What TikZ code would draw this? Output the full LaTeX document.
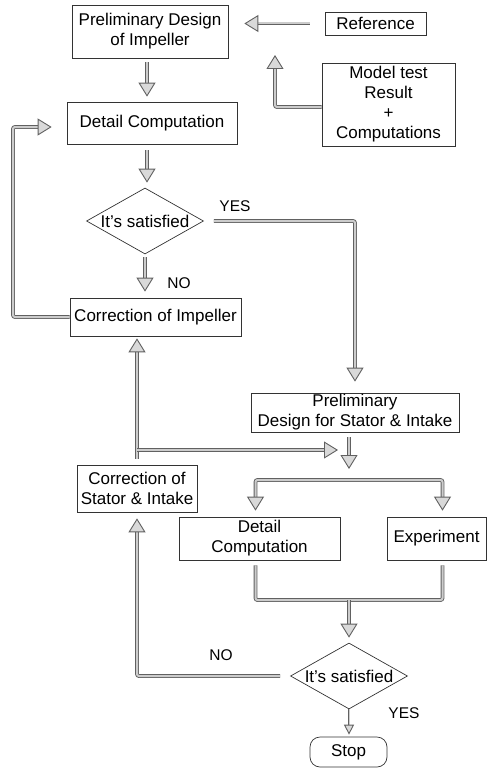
\documentclass[tikz,border=0pt]{standalone}
\usepackage{fontspec}
\setmainfont{Liberation Sans}
\usetikzlibrary{shapes.geometric,arrows.meta}
\tikzset{
box/.style={draw=black!80,line width=0.7pt,inner sep=1pt,align=center},
decide/.style={diamond,draw=black!80,line width=0.7pt,inner sep=0pt,aspect=1.75,minimum width=117pt,minimum height=66pt},
endbox/.style={draw=black!80,line width=0.7pt,rounded corners=10pt,minimum width=77pt,minimum height=30pt},
pipe/.style={draw=black!62,double=black!20,double distance=2pt,line width=0.9pt,rounded corners=2pt},
pipehead/.tip={Triangle[length=14pt,width=17pt,fill=black!15]},
pipearrow/.style={pipe,-pipehead},
lbl/.style={font=\fontsize{15.5}{18}\selectfont}
}
\begin{document}
\begin{tikzpicture}[x=1pt,y=-1pt,every node/.style={font=\fontsize{17}{20}\selectfont}]
\useasboundingbox (0,0) rectangle (488,768);
% impeller loop
\node[box,minimum width=156pt,minimum height=53pt] (pd) at (150,31.5) {Preliminary Design\\of Impeller};
\node[box,minimum width=101pt,minimum height=23pt] (ref) at (375.5,23.5) {Reference};
\node[box,minimum width=133pt,minimum height=83pt] (model) at (388.5,104.5) {Model test\\Result\\+\\Computations};
\node[box,minimum width=170pt,minimum height=42pt] (dc) at (152,123) {Detail Computation};
\node[decide] (s1) at (145,221) {It's satisfied};
\node[box,minimum width=171pt,minimum height=38pt] (ci) at (155.5,317) {Correction of Impeller};
\node[lbl] (yes1) at (235,206) {YES};
\node[lbl] (no1) at (179,283) {NO};
\coordinate (mt) at (275,55);
\coordinate (lft) at (13,0);
\draw[pipearrow,shorten <=15pt,shorten >=16pt] (ref.west) -- (ref.west -| pd.east);
\draw[pipearrow] ([yshift=-2.5pt]model.west) -| (mt);
\draw[pipearrow,shorten <=4pt,shorten >=5pt] ([xshift=-3pt]pd.south) -- ([xshift=-3pt]pd.south |- dc.north);
\draw[pipearrow,shorten <=6pt,shorten >=5pt] ([xshift=-5pt]dc.south) -- ([xshift=-5pt]dc.south |- s1.north);
\draw[pipearrow,shorten <=3pt,shorten >=6pt] (s1.south) -- (s1.south |- ci.north);
\draw[pipearrow,shorten >=15pt] (ci.west) -- (ci.west -| lft) |- ([yshift=-4pt]dc.west);
% stator and intake
\node[box,minimum width=208pt,minimum height=39pt,inner sep=0pt] (ps) at (355,412.5) {Preliminary\\Design for Stator \& Intake};
\node[box,minimum width=120pt,minimum height=47pt] (cs) at (137,488.5) {Correction of\\Stator \& Intake};
\node[box,minimum width=161pt,minimum height=43pt] (dc2) at (259.5,538.5) {Detail\\Computation};
\node[box,minimum width=99pt,minimum height=43pt] (ex) at (436.5,538.5) {Experiment};
\node[decide] (s2) at (349,676) {It's satisfied};
\node[endbox] (stop) at (348.5,752) {Stop};
\node[lbl] (no2) at (221,655) {NO};
\node[lbl] (yes2) at (404,713) {YES};
\coordinate (jn) at (137,450);
\coordinate (tip) at (338,450);
\coordinate (sp) at (349,469);
\coordinate (br) at (349,480);
\coordinate (mj) at (349,600);
\draw[pipearrow,shorten <=10pt,shorten >=11pt] (s1.east) -| (ps.north);
\draw[pipearrow,shorten <=6pt,shorten >=2pt] (cs.north) -- (cs.north |- ci.south);
\draw[pipearrow] (jn) -- (tip);
\draw[pipearrow,shorten <=5pt] ([xshift=-6pt]ps.south) -- (sp);
\draw[pipe,pipehead-pipehead,shorten <=6pt,shorten >=6pt] ([xshift=-4pt]dc2.north) |- (br) -| ([xshift=6pt]ex.north);
\draw[pipe,shorten <=5pt,shorten >=5pt] ([xshift=-4pt]dc2.south) |- (mj) -| ([xshift=6pt]ex.south);
\draw[pipearrow,shorten >=5pt] (mj) -- (s2.north);
\draw[pipearrow,shorten <=10pt,shorten >=6pt] (s2.west) -| (cs.south);
\draw[pipe,double distance=0.8pt,-{Triangle[length=10pt,width=10pt,fill=black!15]},shorten >=2pt] (s2.south) -- (s2.south |- stop.north);
\end{tikzpicture}
\end{document}
